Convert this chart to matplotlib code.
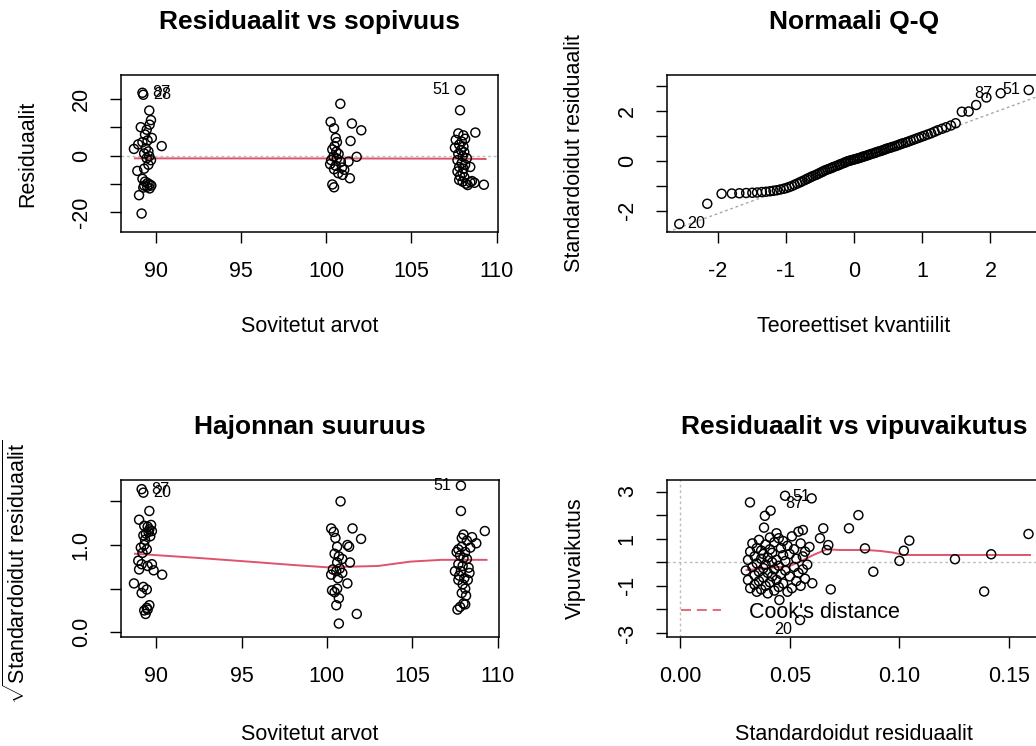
import matplotlib
matplotlib.use("Agg")
import matplotlib.pyplot as plt

plt.rcParams['font.family'] = ['Liberation Sans', 'DejaVu Sans']
plt.rcParams['mathtext.fontset'] = 'custom'
plt.rcParams['mathtext.rm'] = 'Liberation Sans'
plt.rcParams['mathtext.sf'] = 'Liberation Sans'

# --- Residuaalit vs sopivuus ---
sovitetut = [89.20, 89.25, 89.60, 89.70, 89.62, 89.10, 89.45, 89.35, 89.75, 89.50, 89.20, 88.95, 88.70, 90.33, 89.40, 89.55, 89.30,
             89.60, 89.45, 89.70, 89.55, 89.30, 88.90, 89.20, 89.35, 89.50, 89.62, 89.30, 89.48, 89.72, 89.25, 89.62, 89.00, 89.15,
             100.82, 100.25, 100.45, 101.50, 102.05, 101.42, 100.55, 100.62, 100.48, 100.35, 100.58, 100.72, 100.42, 100.62,
             100.28, 100.85, 100.22, 100.55, 100.92, 101.05, 100.45, 100.70, 100.95, 101.30, 101.78, 101.38, 100.35, 100.45,
             107.85, 107.85, 107.75, 108.05, 108.75, 107.60, 107.95, 108.15, 107.80, 108.05, 107.55, 107.90, 108.10, 107.75, 108.00,
             108.25, 107.70, 107.95, 108.15, 107.80, 108.05, 108.45, 107.70, 108.00, 107.85, 108.10, 107.80, 108.00, 108.20, 108.45,
             108.70, 108.55, 109.25, 108.30]
residuaalit = [22.3, 21.6, 16.0, 12.6, 11.0, 10.1, 9.2, 7.5, 6.3, 5.4, 4.8, 4.0, 2.4, 3.4, 2.6, 1.5, 0.8, -0.2, -0.9, -1.6, -3.2,
               -4.6, -5.4, -8.2, -9.2, -9.7, -10.2, -10.6, -11.0, -10.6, -11.3, -11.6, -14.0, -20.5,
               18.4, 12.0, 9.7, 11.4, 9.0, 5.2, 6.3, 4.8, 3.4, 2.2, 1.4, 0.6, -0.3, -1.0, -1.6, -2.2, -3.0, -3.6, -4.2, -5.0,
               -4.8, -6.2, -6.8, -2.1, -0.4, -8.0, -10.2, -11.2,
               23.3, 16.1, 7.9, 7.2, 8.2, 5.6, 5.0, 6.0, 3.9, 3.2, 2.8, 2.0, 1.2, 0.6, -0.2, -0.9, -1.6, -2.6, -3.2, -4.0, -4.6,
               -4.0, -5.6, -6.2, -7.2, -7.6, -8.6, -9.2, -9.9, -9.4, -9.6, -9.0, -10.3, -10.4]
tasoitus1_x = [88.76, 100.5, 107.5, 109.35]
tasoitus1_y = [-0.95, -0.98, -1.05, -1.17]
tunnisteet1 = [('87', 0), ('28', 1), ('51', 62)]

# --- Normaali Q-Q ---
teoreettiset = [-2.56, -2.15, -1.94, -1.79, -1.68, -1.58, -1.49, -1.42, -1.35, -1.29, -1.23, -1.18, -1.13, -1.08, -1.03, -0.99,
                -0.95, -0.91, -0.87, -0.83, -0.79, -0.76, -0.72, -0.69, -0.66, -0.63, -0.60, -0.56, -0.53, -0.50, -0.47, -0.45,
                -0.42, -0.39, -0.36, -0.33, -0.31, -0.28, -0.25, -0.22, -0.20, -0.17, -0.14, -0.12, -0.09, -0.065, -0.04, -0.013,
                0.013, 0.04, 0.065, 0.09, 0.12, 0.14, 0.17, 0.20, 0.22, 0.25, 0.28, 0.31, 0.33, 0.36, 0.39, 0.42,
                0.45, 0.47, 0.50, 0.53, 0.56, 0.60, 0.63, 0.66, 0.69, 0.72, 0.76, 0.79, 0.83, 0.87, 0.91, 0.95,
                0.99, 1.03, 1.08, 1.13, 1.18, 1.23, 1.29, 1.35, 1.42, 1.49, 1.58, 1.68, 1.79, 1.94, 2.15, 2.56]
std_jarj = [-2.53, -1.72, -1.32, -1.31, -1.30, -1.29, -1.28, -1.27, -1.25, -1.24, -1.22, -1.20, -1.18, -1.15, -1.12, -1.09,
            -1.05, -1.01, -0.96, -0.91, -0.86, -0.82, -0.77, -0.73, -0.69, -0.65, -0.61, -0.57, -0.53, -0.49, -0.45, -0.42,
            -0.38, -0.35, -0.32, -0.29, -0.26, -0.23, -0.20, -0.17, -0.14, -0.11, -0.08, -0.05, -0.02, 0.00, 0.02, 0.04,
            0.06, 0.08, 0.10, 0.12, 0.15, 0.17, 0.19, 0.22, 0.24, 0.27, 0.29, 0.32, 0.34, 0.37, 0.39, 0.42,
            0.45, 0.47, 0.50, 0.52, 0.55, 0.58, 0.61, 0.64, 0.67, 0.70, 0.73, 0.76, 0.80, 0.84, 0.88, 0.92,
            0.96, 1.00, 1.05, 1.10, 1.16, 1.22, 1.28, 1.34, 1.41, 1.50, 1.96, 1.97, 2.23, 2.53, 2.70, 2.83]
qq_vakio, qq_kulma = -0.12, 1.0
tunnisteet2 = [('20', 0), ('87', 94), ('51', 95)]

# --- Hajonnan suuruus ---
sl_sovitetut = [89.15, 89.25, 89.60, 89.00, 89.30, 89.50, 89.60, 89.70, 89.55, 89.40, 89.25, 89.75, 89.65, 89.35, 89.30, 89.10,
                89.45, 89.20, 88.95, 89.15, 89.00, 89.50, 89.75, 89.85, 90.35, 88.70, 89.25, 89.45, 89.15, 89.60, 89.45, 89.30,
                89.38, 89.50,
                100.80, 100.25, 100.40, 101.50, 102.00, 101.20, 101.30, 100.50, 100.60, 100.45, 100.70, 100.60, 100.90, 100.35,
                100.55, 100.75, 100.65, 101.35, 100.25, 101.20, 100.30, 100.45, 100.60, 100.70, 100.55, 101.75, 100.70, 100.90,
                107.85, 107.85, 109.25, 108.00, 108.50, 108.75, 108.20, 107.90, 107.70, 107.80, 108.00, 108.20, 107.70, 107.95,
                108.30, 107.85, 107.50, 107.75, 108.05, 108.25, 107.95, 108.10, 108.00, 107.80, 107.65, 108.10, 107.60, 108.40,
                107.90, 108.10, 107.70, 108.35, 108.15, 107.90]
sl_juuri = [1.64, 1.60, 1.39, 1.29, 1.22, 1.21, 1.18, 1.23, 1.15, 1.13, 1.11, 1.16, 1.10, 1.06, 1.00, 0.97, 0.95, 0.91, 0.82,
            0.78, 0.72, 0.76, 0.78, 0.71, 0.66, 0.56, 0.52, 0.49, 0.45, 0.31, 0.28, 0.25, 0.21, 0.26,
            1.50, 1.19, 1.15, 1.19, 1.07, 1.00, 0.98, 1.08, 0.98, 0.90, 0.87, 0.80, 0.84, 0.72, 0.70, 0.73, 0.62, 0.80,
            0.66, 0.56, 0.48, 0.46, 0.50, 0.39, 0.31, 0.21, 0.10, 0.68,
            1.68, 1.39, 1.16, 1.12, 1.09, 1.02, 1.05, 0.98, 0.95, 0.88, 0.85, 0.84, 0.78, 0.76, 0.74, 0.70, 0.70, 0.65,
            0.62, 0.60, 0.55, 0.50, 0.33, 0.29, 0.26, 0.32, 0.92, 0.97, 1.08, 0.92, 0.60, 0.68, 0.42, 0.45]
tasoitus3_x = [88.76, 92.6, 95.4, 98.1, 100.0, 103.0, 104.9, 106.7, 109.35]
tasoitus3_y = [0.90, 0.85, 0.81, 0.77, 0.745, 0.76, 0.81, 0.83, 0.83]
tunnisteet3 = [('87', 0), ('20', 1), ('51', 62)]

# --- Residuaalit vs vipuvaikutus ---
vipu = [0.0319, 0.0387, 0.0413, 0.0383, 0.0479, 0.0600, 0.0453, 0.0547, 0.0603, 0.0687, 0.0653, 0.0638, 0.0676, 0.0669,
        0.0770, 0.0813, 0.0843, 0.0881, 0.1000, 0.1020, 0.1045, 0.1253, 0.1386, 0.1418, 0.1588, 0.0560,
        0.030, 0.031, 0.031, 0.032, 0.032, 0.033, 0.033, 0.034, 0.034, 0.034, 0.035, 0.035, 0.035, 0.036, 0.036, 0.036,
        0.037, 0.037, 0.037, 0.038, 0.038, 0.038, 0.039, 0.039, 0.039, 0.040, 0.040, 0.040, 0.041, 0.041, 0.041, 0.042,
        0.042, 0.042, 0.043, 0.043, 0.043, 0.044, 0.044, 0.044, 0.045, 0.045, 0.045, 0.046, 0.046, 0.047, 0.047, 0.047,
        0.048, 0.048, 0.049, 0.049, 0.050, 0.050, 0.051, 0.051, 0.052, 0.052, 0.053, 0.053, 0.054, 0.054, 0.055, 0.055,
        0.056, 0.056, 0.057, 0.057, 0.058, 0.059]
vipu_std = [2.54, 1.97, 2.19, 1.47, 2.82, 2.71, -1.60, -2.45, -0.89, -1.15, 1.44, 1.02, 0.73, 0.52, 1.44, 2.00, 0.59, -0.40,
            0.06, 0.49, 0.92, 0.13, -1.24, 0.34, 1.20, 1.37,
            -0.35, -0.75, 0.10, -1.10, 0.45, -0.20, 0.80, -0.55, -0.95, 0.25, -1.25, 0.60, -0.05, -0.40, 0.95, -0.80,
            0.15, -1.15, 0.50, -0.25, -0.65, 0.35, 0.75, -1.00, -0.10, -1.32, 0.20, -0.45, 0.55, -0.85, 1.05, 0.00,
            -0.60, 0.40, -1.20, 0.85, -0.30, 1.23, 0.10, -0.75, 1.02, -0.15, -1.05, 0.60, -0.50, 0.30, -0.90, 0.90,
            -0.35, 0.05, -1.25, 0.70, -0.60, 0.35, -1.10, 1.10, -0.20, 0.55, -0.80, 0.15, 1.30, -0.45, 0.80, -1.00,
            0.25, -0.30, -0.70, 0.45, -0.10, 0.65]
tasoitus4_x = [0.0304, 0.0395, 0.0500, 0.0547, 0.0608, 0.0669, 0.0729, 0.0850, 0.0912, 0.0972, 0.1018, 0.1595]
tasoitus4_y = [-0.33, -0.25, -0.16, 0.03, 0.31, 0.55, 0.52, 0.52, 0.48, 0.41, 0.31, 0.31]
tunnisteet4 = [('87', 0.052, 2.51), ('51', 0.0555, 2.78), ('20', 0.047, -2.87)]

PUNAINEN = '#DF536B'
HARMAA = '#BEBEBE'
FS = 15.5
W, H = 1036, 746

fig = plt.figure(figsize=(W / 100, H / 100), dpi=100)


def akseli(l, t, r, b):
    return fig.add_axes([l / W, 1 - b / H, (r - l) / W, (b - t) / H])


def muotoile(ax, otsikko, xnimi, ynimi, xt, xl, yt, yl, xlim, ylim, yx=-0.247, yy=0.5, xy=94):
    ax.set_xlim(xlim)
    ax.set_ylim(ylim)
    ax.set_xticks(xt)
    ax.set_xticklabels(xl)
    ax.set_yticks(yt)
    ax.set_yticklabels(yl, rotation=90, va='center')
    ax.tick_params(direction='out', length=8, width=1, pad=13, labelsize=FS, colors='black')
    for s in ax.spines.values():
        s.set_linewidth(1.1)
    korkeus = ax.get_position().height * H
    ax.text(0.5, 1 + 53 / korkeus, otsikko, transform=ax.transAxes, ha='center', va='center',
            fontsize=19, fontweight='bold')
    ax.set_xlabel(xnimi, fontsize=FS, va='center')
    ax.xaxis.set_label_coords(0.5, -xy / korkeus)
    ax.set_ylabel(ynimi, fontsize=FS, va='center')
    ax.yaxis.set_label_coords(yx, yy)


def pisteet(ax, x, y):
    ax.scatter(x, y, s=42, facecolors='none', edgecolors='black', linewidths=1.05, zorder=3)


# 1
ax1 = akseli(121, 75, 498, 232)
ax1.axhline(0, color=HARMAA, lw=1, ls=(0, (2, 2)))
pisteet(ax1, sovitetut, residuaalit)
ax1.plot(tasoitus1_x, tasoitus1_y, color=PUNAINEN, lw=1.4)
for nimi, i in tunnisteet1:
    oikea = sovitetut[i] < 99
    ax1.annotate(nimi, (sovitetut[i], residuaalit[i]), xytext=(7 if oikea else -7, 0), textcoords='offset points',
                 ha='left' if oikea else 'right', va='center', fontsize=FS * 0.75)
muotoile(ax1, 'Residuaalit vs sopivuus', 'Sovitetut arvot', 'Residuaalit',
         [90, 95, 100, 105, 110], ['90', '95', '100', '105', '110'],
         [-20, -10, 0, 10, 20], ['-20', '', '0', '', '20'], (87.94, 110.08), (-27.05, 28.6))

# 2
ax2 = akseli(667, 75, 1041, 232)
ax2.axline((0, qq_vakio), slope=qq_kulma, color='#A8A8A8', lw=1, ls=(0, (2, 2)))
pisteet(ax2, teoreettiset, std_jarj)
for nimi, i in tunnisteet2:
    oikea = teoreettiset[i] < 0
    ax2.annotate(nimi, (teoreettiset[i], std_jarj[i]), xytext=(6 if oikea else -6, 0), textcoords='offset points',
                 ha='left' if oikea else 'right', va='center', fontsize=FS * 0.75)
muotoile(ax2, 'Normaali Q-Q', 'Teoreettiset kvantiilit', 'Standardoidut residuaalit',
         [-2, -1, 0, 1, 2], ['-2', '-1', '0', '1', '2'],
         [-2, -1, 0, 1, 2, 3], ['-2', '', '0', '', '2', ''], (-2.74, 2.74), (-2.85, 3.43), yx=-0.246)

# 3
ax3 = akseli(121, 480, 499, 637)
pisteet(ax3, sl_sovitetut, sl_juuri)
ax3.plot(tasoitus3_x, tasoitus3_y, color=PUNAINEN, lw=1.4)
for nimi, i in tunnisteet3:
    oikea = sl_sovitetut[i] < 99
    ax3.annotate(nimi, (sl_sovitetut[i], sl_juuri[i]), xytext=(7 if oikea else -7, 0), textcoords='offset points',
                 ha='left' if oikea else 'right', va='center', fontsize=FS * 0.75)
muotoile(ax3, 'Hajonnan suuruus', 'Sovitetut arvot', r'$\sqrt{\mathsf{Standardoidut\ residuaalit}}$',
         [90, 95, 100, 105, 110], ['90', '95', '100', '105', '110'],
         [0, 0.5, 1.0, 1.5], ['0.0', '', '1.0', ''], (87.94, 110.08), (-0.054, 1.745),
         yx=-0.275, yy=0.415, xy=97)

# 4
ax4 = akseli(667, 480, 1041, 637)
ax4.axhline(0, color=HARMAA, lw=1, ls=(0, (2, 2)))
ax4.axvline(0, color=HARMAA, lw=1, ls=(0, (2, 2)))
pisteet(ax4, vipu, vipu_std)
ax4.plot(tasoitus4_x, tasoitus4_y, color=PUNAINEN, lw=1.4)
for nimi, x, y in tunnisteet4:
    ax4.text(x, y, nimi, ha='center', va='center', fontsize=FS * 0.75)
ax4.plot([], [], color=PUNAINEN, lw=1.2, ls=(0, (6, 3.5)), label="Cook's distance")
ax4.legend(loc='lower left', frameon=False, fontsize=FS, handlelength=1.85, handletextpad=1.3,
           borderaxespad=0.3, borderpad=0.35)
muotoile(ax4, 'Residuaalit vs vipuvaikutus', 'Standardoidut residuaalit', 'Vipuvaikutus',
         [0, 0.05, 0.10, 0.15], ['0.00', '0.05', '0.10', '0.15'],
         [-3, -2, -1, 0, 1, 2, 3], ['-3', '', '-1', '', '1', '', '3'], (-0.0059, 0.1645), (-3.17, 3.49),
         yx=-0.246, xy=97)

fig.savefig('out.png', dpi=100)
